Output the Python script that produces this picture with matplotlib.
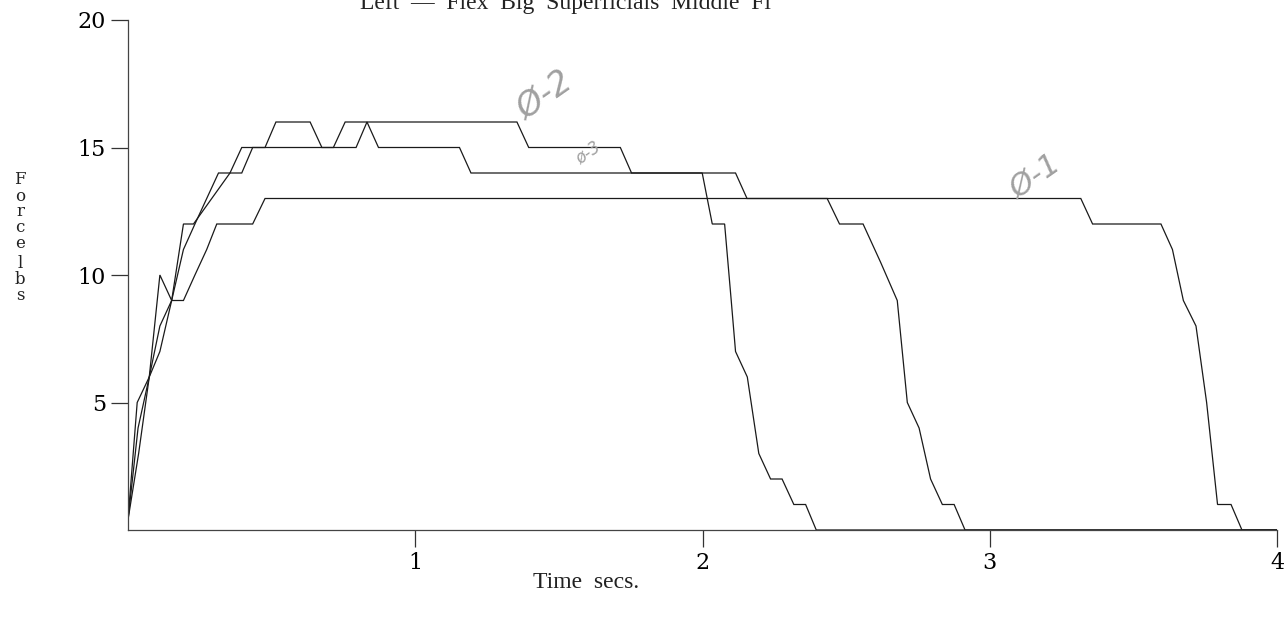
import matplotlib
matplotlib.use("Agg")
import matplotlib.pyplot as plt

# ---- data (time in seconds, force in lbs) ----
t1 = [0.0, 0.032, 0.074, 0.111, 0.152, 0.193, 0.233, 0.274, 0.309, 0.434, 0.477,
      3.317, 3.358, 3.596, 3.636, 3.674, 3.718, 3.755, 3.793, 3.840, 3.878, 4.0]
f1 = [0.4, 5, 6, 10, 9, 9, 10, 11, 12, 12, 13,
      13, 12, 12, 11, 9, 8, 5, 1, 1, 0, 0]

t2 = [0.0, 0.037, 0.074, 0.111, 0.152, 0.193, 0.228, 0.355, 0.396, 0.434, 0.477,
      0.515, 0.634, 0.675, 0.715, 0.756, 1.354, 1.395, 1.714, 1.753, 2.115, 2.155,
      2.434, 2.477, 2.559, 2.620, 2.678, 2.713, 2.754, 2.794, 2.835, 2.876, 2.914, 4.0]
f2 = [0.4, 3, 6, 7, 9, 12, 12, 14, 14, 15, 15,
      16, 16, 15, 15, 16, 16, 15, 15, 14, 14, 13,
      13, 12, 12, 10.5, 9, 5, 4, 2, 1, 1, 0, 0]

t3 = [0.0, 0.035, 0.074, 0.111, 0.152, 0.193, 0.233, 0.274, 0.315, 0.355, 0.396,
      0.794, 0.832, 0.872, 1.154, 1.194, 1.999, 2.034, 2.077, 2.100, 2.115, 2.156,
      2.196, 2.237, 2.277, 2.318, 2.359, 2.396, 4.0]
f3 = [0.4, 4, 6, 8, 9, 11, 12, 13, 14, 14, 15,
      15, 16, 15, 15, 14, 14, 12, 12, 9, 7, 6,
      3, 2, 2, 1, 1, 0, 0]

series = [(t1, f1), (t2, f2), (t3, f3)]
xticks = [1, 2, 3, 4]
yticks = [5, 10, 15, 20]
title = "Left  \u2014  Flex  Big  Superficials  Middle  Fi"
xlabel = "Time  secs."
ylabel_letters = ["F", "o", "r", "c", "e", "l", "b", "s"]
ylabel_ypix = [180, 196, 212, 228, 244, 264, 280, 296]
notes = [("\u00d8-2", 1.45, 17.0, 35, 24), ("\u00d8-1", 3.16, 13.8, 35, 22),
         ("\u00f8-3", 1.60, 14.8, 35, 12)]

W, H = 1288, 619
fig = plt.figure(figsize=(W / 100, H / 100), dpi=100)
ax = fig.add_axes([128 / W, 1 - 530 / H, (1277 - 128) / W, (530 - 20) / H])

for t, f in series:
    ax.plot(t, f, color="#1a1a1a", lw=0.9, solid_joinstyle="miter")

ax.set_xlim(0, 4)
ax.set_ylim(0, 20)
ax.spines["top"].set_visible(False)
ax.spines["right"].set_visible(False)
for s in ("left", "bottom"):
    ax.spines[s].set_color("#444444")
    ax.spines[s].set_linewidth(0.9)

ax.set_xticks(xticks)
ax.set_xticklabels([str(v) for v in xticks], family="DejaVu Serif", fontsize=16)
ax.set_yticks(yticks)
ax.set_yticklabels([str(v) for v in yticks], family="DejaVu Serif", fontsize=16)
ax.tick_params(axis="x", direction="out", length=12, width=0.9, color="#333333", pad=4)
ax.tick_params(axis="y", direction="out", length=12, width=0.9, color="#333333", pad=4)

fig.text(565 / W, 1 - 9 / H, title, ha="center", va="baseline",
         family="Liberation Serif", fontsize=17, color="#222222")
fig.text(586 / W, 1 - 583 / H, xlabel, ha="center", va="center",
         family="Liberation Serif", fontsize=17, color="#222222")

for ch, yp in zip(ylabel_letters, ylabel_ypix):
    fig.text(20 / W, 1 - yp / H, ch, ha="center", va="center",
             family="DejaVu Serif", fontsize=12, color="#222222")

for txt, x, y, rot, fs in notes:
    ax.text(x, y, txt, ha="center", va="center", rotation=rot, fontsize=fs,
            style="italic", color="#a0a0a0", family="DejaVu Sans")

fig.savefig("out.png", dpi=100)
